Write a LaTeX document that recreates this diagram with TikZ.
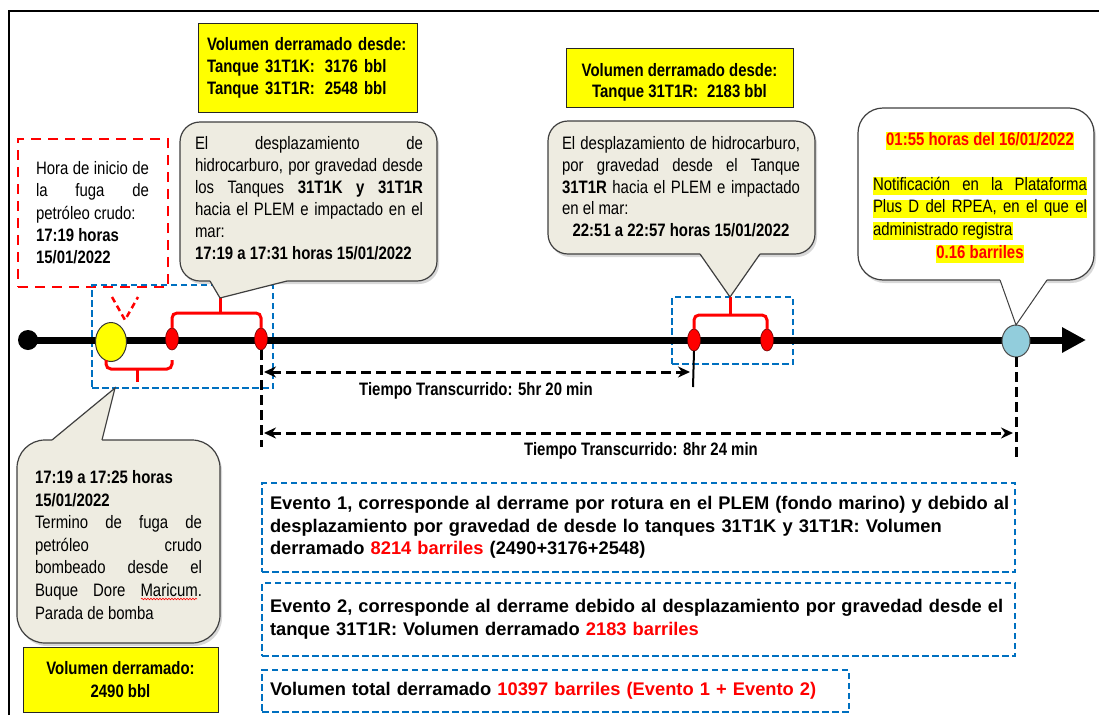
\documentclass[tikz,border=0pt]{standalone}
\usepackage{fontspec}
\setmainfont{Liberation Sans}
\newfontfamily\nf{Liberation Sans}[FakeStretch=0.83]
\usetikzlibrary{arrows.meta,shapes.geometric,shadows,decorations.pathmorphing}
\definecolor{beige}{HTML}{EEECE1}
\definecolor{cborder}{HTML}{3F3F3F}
\definecolor{bblue}{HTML}{0070C0}
\definecolor{lblue}{HTML}{92CDDC}
\definecolor{ylw}{HTML}{FFFF00}
\definecolor{rred}{HTML}{FF0000}
\newcommand{\jl}[2]{\makebox[#1][s]{#2}}
\newcommand{\hlt}[1]{{\setlength{\fboxsep}{0pt}\colorbox{ylw}{\rule[-5pt]{0pt}{17.5pt}#1}}}
\newcommand{\nfs}[1]{\nf\fontsize{18}{#1}\selectfont}
\begin{document}
\begin{tikzpicture}[x=1pt,y=-1pt,
  >={Stealth[length=12pt,width=11pt]},
  every node/.style={inner sep=0pt, outer sep=0pt},
  cbox/.style={fill=beige, draw=cborder, line width=1.2pt, rounded corners=#1,
    drop shadow={opacity=0.3, shadow xshift=2pt, shadow yshift=-3pt}},
  ctail/.style={draw=cborder, line width=1.2pt, line join=miter},
  ybox/.style={fill=ylw, draw=black!85, line width=1pt, font={\nfs{22}\bfseries}},
  bdash/.style={draw=bblue, line width=2.2pt, dash pattern=on 6.5pt off 3.5pt},
  rdash/.style={draw=rred, line width=2.5pt, dash pattern=on 10pt off 7pt},
  kdash/.style={draw=black, line width=3pt, dash pattern=on 10pt off 5pt},
  brk/.style={draw=rred, line width=3pt, rounded corners=5pt},
  redpt/.style={ellipse, fill=rred, draw=black!60!red, line width=0.6pt, minimum width=13pt, minimum height=22pt},
  evfont/.style={font={\fontsize{18.3}{22.5}\selectfont\bfseries}}
]
\useasboundingbox (0,0) rectangle (1099,715);
\fill[white] (0,0) rectangle (1099,715);
% frame
\draw[line width=2pt, line join=miter] (9,715) -- (9,11) -- (1099,11);

% yellow boxes
\node[ybox, anchor=north west, text width=201pt, inner xsep=9pt, minimum height=89pt, align=left] (vol1) at (198,23)
  {Volumen derramado desde:\\Tanque 31T1K:\hspace{10pt}3176 bbl\\Tanque 31T1R:\hspace{10pt}2548 bbl};
\node[ybox, anchor=north west, minimum width=227pt, minimum height=59pt, align=center, font={\nfs{21}\bfseries}] (vol2) at (566,48)
  {\rule{0pt}{23pt}Volumen derramado desde:\\Tanque 31T1R:\hspace{9pt}2183 bbl};
\node[ybox, anchor=north west, minimum width=195pt, minimum height=65pt, align=center, font={\nfs{23}\bfseries}] (vol3) at (23,647)
  {Volumen derramado:\\2490 bbl};

% red dashed start box
\node[rdash, anchor=north west, minimum width=150pt, minimum height=148pt] (hora) at (18,139) {};
\node[anchor=north west, align=left, font={\nfs{22.3}}] (horat) at (36,161.5)
  {\jl{113pt}{Hora de inicio de}\\ \hbox to 113pt{la\hfill fuga\hfill de}\\ petróleo crudo:\\ \textbf{17:19 horas}\\ \textbf{15/01/2022}};

% blue dashed boxes
\node[bdash, anchor=north west, minimum width=181pt, minimum height=103pt] (bb1) at (92,285) {};
\node[bdash, anchor=north west, minimum width=121pt, minimum height=67pt] (bb2) at (672,297) {};

% timeline
\node[circle, fill=black, minimum size=20pt] (start) at (28,340) {};
\coordinate (tend) at (1086,340);
\draw[line width=7pt, -{Triangle[length=24pt,width=24pt]}] (start.center) -- (tend);
\node[ellipse, fill=ylw, draw=black!80, line width=1pt, minimum width=31pt, minimum height=39pt] (ini) at (111,342) {};
\node[redpt] (e1) at (172,339) {};
\node[redpt] (e2) at (261,339) {};
\node[redpt] (e3) at (694,340) {};
\node[redpt] (e4) at (767,340) {};
\node[ellipse, fill=lblue, draw=black!70, line width=1pt, minimum width=28pt, minimum height=32pt] (fin) at (1016,341) {};

% red V marker
\coordinate (vtip) at (125,320);
\draw[rred, line width=2.5pt, dash pattern=on 6pt off 4pt] (112,297) -- (vtip) -- (138,297);

% brackets
\coordinate (t1) at (220,298);
\coordinate (t2) at (730,297);
\coordinate (t4) at (115,388);
\draw[brk] (e1.north) -- (172,313) -- (261,313) -- (e2.north);
\draw[rred, line width=3pt] (220,313) -- (t1);
\draw[brk] (106,360) -- (106,369) -- (172,369) -- (172,360);
\draw[rred, line width=3pt] (137,369) -- (137,382);
\draw[brk] (e3.north) -- (694,315) -- (767,315) -- (e4.north);
\draw[rred, line width=3pt] (730,315) -- (t2);

% vertical guides
\coordinate (g2) at (261,447);
\coordinate (g3) at (693,387);
\coordinate (gf) at (1016,459);
\draw[kdash] (e2.south) -- (g2);
\draw[black, line width=2pt] (e3.south) -- (g3);
\draw[kdash] (fin.south) -- (gf);

% elapsed time arrows
\coordinate (a1l) at (264,372);
\coordinate (a1r) at (690,372);
\coordinate (a2l) at (264,433);
\coordinate (a2r) at (1013,433);
\draw[kdash, <->] (a1l) -- (a1r);
\draw[kdash, <->] (a2l) -- (a2r);
\node[font={\nfs{22}\bfseries}] (lab1) at (476,391) {Tiempo Transcurrido: 5hr 20 min};
\node[font={\nfs{22}\bfseries}] (lab2) at (641,451) {Tiempo Transcurrido: 8hr 24 min};

% callout 1
\path[cbox=20pt] (180,122) rectangle (437,281);
\fill[beige] (210,279) -- (210,281) -- (t1) -- (287,281) -- (287,279) -- cycle;
\draw[ctail] (210,281) -- (t1) -- (287,281);
\node[anchor=north west, align=left, font={\nfs{22}}] (c1t) at (195,136.5)
  {\jl{228pt}{El desplazamiento de}\\ \jl{228pt}{hidrocarburo, por gravedad desde}\\ \jl{228pt}{los Tanques \textbf{31T1K y 31T1R}}\\ \jl{228pt}{hacia el PLEM e impactado en el}\\ mar:\\ \textbf{17:19 a 17:31 horas 15/01/2022}};

% callout 2
\path[cbox=20pt] (548,121) rectangle (815,254);
\fill[beige] (700,252) -- (700,254) -- (t2) -- (760,254) -- (760,252) -- cycle;
\draw[ctail] (700,254) -- (t2) -- (760,254);
\node[anchor=north west, align=left, font={\nfs{21.8}}] (c2t) at (562,136.5)
  {\jl{238pt}{El desplazamiento de hidrocarburo,}\\ \jl{238pt}{por gravedad desde el Tanque}\\ \jl{238pt}{\textbf{31T1R} hacia el PLEM e impactado}\\ en el mar:\\ \makebox[238pt]{\textbf{22:51 a 22:57 horas 15/01/2022}}};

% callout 3
\path[cbox=25pt, fill=white] (858,108) rectangle (1094,280);
\fill[white] (1000,278) -- (1000,280) -- (fin.north) -- (1047,280) -- (1047,278) -- cycle;
\draw[ctail, line width=1pt] (1000,280) -- (fin.north) -- (1047,280);
\node[anchor=north, align=center, font={\nfs{22.6}}] (c3t) at (980,132)
  {\hlt{\textcolor{rred}{\bfseries 01:55 horas del 16/01/2022}}\\ \mbox{}\\
   \hlt{\hbox to 214pt{Notificación\hfill en\hfill la\hfill Plataforma}}\\
   \hlt{\hbox to 214pt{Plus\hfill D\hfill del\hfill RPEA,\hfill en\hfill el\hfill que\hfill el}}\\
   \hbox to 214pt{\hlt{administrado registra}\hfill}\\
   \hlt{\textcolor{rred}{\bfseries 0.16 barriles}}};

% callout 4
\path[cbox=28pt] (17,440) rectangle (220,643);
\fill[beige] (52,442) -- (52,440) -- (t4) -- (102,440) -- (102,442) -- cycle;
\draw[ctail] (52,440) -- (t4) -- (102,440);
\node[anchor=north west, align=left, font={\nfs{22.6}}] (c4t) at (35,470.4)
  {\textbf{17:19 a 17:25 horas}\\ \textbf{15/01/2022}\\ \jl{167pt}{Termino de fuga de}\\ \jl{167pt}{petróleo crudo}\\ \jl{167pt}{bombeado desde el}\\ \jl{167pt}{Buque Dore Maricum.}\\ Parada de bomba};
\draw[rred, line width=0.6pt, decorate, decoration={snake, amplitude=0.8pt, segment length=3pt}] (141,599) -- (197,599);

% event boxes
\node[bdash, evfont, anchor=north west, text width=737pt, inner xsep=8pt, minimum height=89pt, align=left] (ev1) at (262,483)
  {\jl{737pt}{Evento 1, corresponde al derrame por rotura en el PLEM (fondo marino) y debido al}\\
   \jl{737pt}{desplazamiento por gravedad de desde lo tanques 31T1K y 31T1R: Volumen}\\
   derramado \textcolor{rred}{8214 barriles} (2490+3176+2548)};
\node[bdash, evfont, anchor=north west, text width=737pt, inner xsep=8pt, minimum height=73pt, align=left] (ev2) at (262,583)
  {\jl{737pt}{Evento 2, corresponde al derrame debido al desplazamiento por gravedad desde el}\\
   tanque 31T1R: Volumen derramado \textcolor{rred}{2183 barriles}};
\node[bdash, anchor=north west, text width=571pt, inner xsep=8pt, minimum height=42pt, align=left, font={\fontsize{18.3}{22}\selectfont\bfseries}] (ev3) at (262,670)
  {Volumen total derramado \textcolor{rred}{10397 barriles (Evento 1 + Evento 2)}};
\end{tikzpicture}
\end{document}
